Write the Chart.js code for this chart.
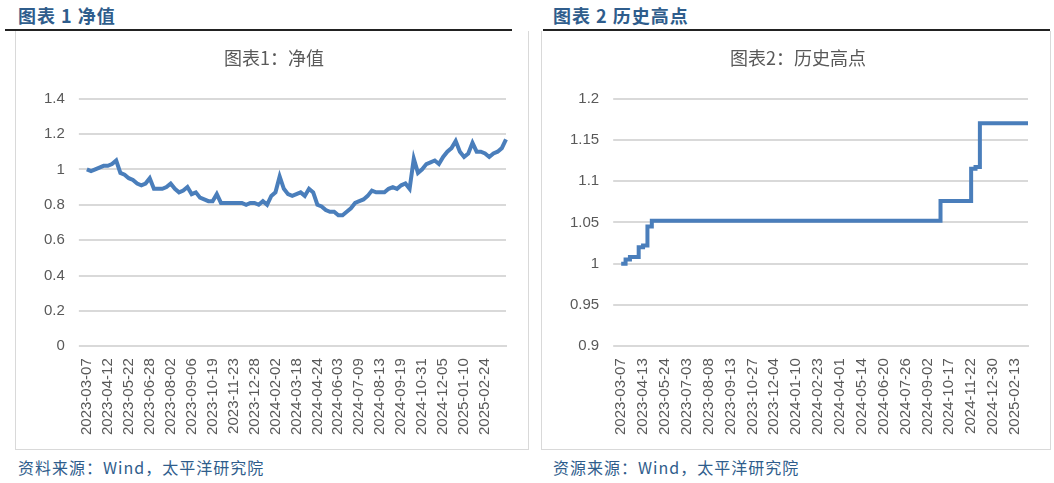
<!DOCTYPE html>
<html><head><meta charset="utf-8">
<script src="https://cdn.jsdelivr.net/npm/chart.js@4"></script>
<style>
body{margin:0;width:1054px;height:483px;background:#fff;position:relative;font-family:"Noto Sans CJK SC",sans-serif;overflow:hidden}
.hd{position:absolute;top:2px;font-size:18px;font-weight:bold;color:#2f5d8c;letter-spacing:1px}
.ln{position:absolute;top:29px;height:2px;background:#222}
.box{position:absolute;top:31px;height:418px;border:1px solid #d9d9d9;border-top:none}
.ft{position:absolute;top:455px;font-size:16px;color:#2f5d8c;letter-spacing:1px}
canvas{display:block}
</style></head><body>
<div class="hd" style="left:18px">图表 1 净值</div>
<div class="ln" style="left:5px;width:507px"></div>
<div class="box" style="left:15px;width:512px"><canvas id="c1"></canvas></div>
<div class="ft" style="left:18px">资料来源：Wind，太平洋研究院</div>
<div class="hd" style="left:553px">图表 2 历史高点</div>
<div class="ln" style="left:543px;width:507px"></div>
<div class="box" style="left:541px;width:508px"><canvas id="c2"></canvas></div>
<div class="ft" style="left:553px">资源来源：Wind，太平洋研究院</div>
<script>
const tickLabels1=["2023-03-07","2023-04-12","2023-05-22","2023-06-28","2023-08-02","2023-09-06","2023-10-19","2023-11-23","2023-12-28","2024-02-02","2024-03-18","2024-04-24","2024-06-03","2024-07-09","2024-08-13","2024-09-19","2024-10-31","2024-12-05","2025-01-10","2025-02-24"];
const navValues=[1.00,0.99,1.00,1.01,1.02,1.02,1.03,1.05,0.98,0.97,0.95,0.94,0.92,0.91,0.92,0.95,0.89,0.89,0.89,0.90,0.92,0.89,0.87,0.88,0.90,0.86,0.87,0.84,0.83,0.82,0.82,0.86,0.81,0.81,0.81,0.81,0.81,0.81,0.80,0.81,0.81,0.80,0.82,0.80,0.85,0.87,0.96,0.89,0.86,0.85,0.86,0.87,0.85,0.89,0.87,0.80,0.79,0.77,0.76,0.76,0.74,0.74,0.76,0.78,0.81,0.82,0.83,0.85,0.88,0.87,0.87,0.87,0.89,0.90,0.89,0.91,0.92,0.89,1.06,0.98,1.00,1.03,1.04,1.05,1.03,1.07,1.10,1.12,1.16,1.10,1.07,1.09,1.15,1.10,1.10,1.09,1.07,1.09,1.10,1.12,1.17];
const tickLabels2=["2023-03-07","2023-04-13","2023-05-24","2023-07-03","2023-08-08","2023-09-13","2023-10-27","2023-12-04","2024-01-10","2024-02-23","2024-04-01","2024-05-14","2024-06-20","2024-07-26","2024-09-02","2024-10-17","2024-11-22","2024-12-30","2025-02-13"];
const highValues=[1.000,1.005,1.008,1.008,1.020,1.022,1.045].concat(Array(66).fill(1.052)).concat(Array(7).fill(1.076)).concat([1.115,1.117]).concat(Array(12).fill(1.17));
const yTicks1=[0,0.2,0.4,0.6,0.8,1,1.2,1.4];
const yTicks2=[0.9,0.95,1,1.05,1.1,1.15,1.2];

const STEP=5;
function mkLabels(n,ticks){return Array.from({length:n},(_,i)=>i%STEP===0&&ticks[i/STEP]?ticks[i/STEP]:'');}
const tickFont={family:"'Liberation Sans',sans-serif",size:15};
function make(id,title,labels,data,yt,stepped,w){
  const cv=document.getElementById(id);cv.width=w;cv.height=418;cv.style.width=w+'px';cv.style.height='418px';
  new Chart(cv,{type:'line',data:{labels,datasets:[{data,borderColor:'#4a7ebb',borderWidth:4,pointRadius:0,tension:0,stepped}]},
  options:{responsive:false,animation:false,layout:{padding:{left:14,right:10,top:4,bottom:10}},
    plugins:{legend:{display:false},tooltip:{enabled:false},
      title:{display:true,text:title,color:'#595959',font:{size:18,family:"'Noto Sans CJK SC'",weight:'normal'},padding:{top:12,bottom:30}}},
    scales:{
      x:{grid:{display:false},border:{color:'#d9d9d9',width:2},ticks:{autoSkip:false,maxRotation:90,minRotation:90,color:'#595959',font:tickFont,padding:4,
          callback:(v,i)=>labels[i]}},
      y:{min:yt[0],max:yt[yt.length-1],afterBuildTicks:ax=>{ax.ticks=yt.map(v=>({value:v}));},
         grid:{color:'#d9d9d9',lineWidth:2},border:{display:false},
         ticks:{color:'#595959',font:{...tickFont,size:15},padding:14,callback:v=>String(+v.toFixed(2))}}
    }}});
}
make('c1','图表1：净值',mkLabels(navValues.length,tickLabels1),navValues,yTicks1,false,512);
make('c2','图表2：历史高点',mkLabels(highValues.length,tickLabels2),highValues,yTicks2,true,508);
</script></body></html>
